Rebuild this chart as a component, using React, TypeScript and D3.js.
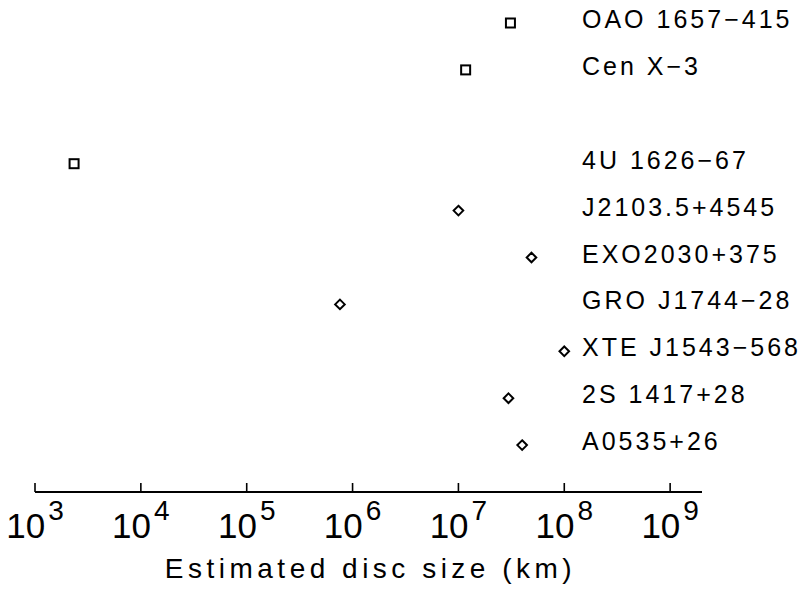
import React from "react";
import * as d3 from "d3";

const names = [
  "OAO 1657−415",
  "Cen X−3",
  "4U 1626−67",
  "J2103.5+4545",
  "EXO2030+375",
  "GRO J1744−28",
  "XTE J1543−568",
  "2S 1417+28",
  "A0535+26",
];
const rows = [0, 1, 3, 4, 5, 6, 7, 8, 9];
const discSize = [3.1e7, 1.17e7, 2.34e3, 1.0e7, 4.9e7, 7.6e5, 1.0e8, 2.97e7, 4.0e7];
const markerType = ["square", "square", "square", "diamond", "diamond", "diamond", "diamond", "diamond", "diamond"];
const tickExponents = [3, 4, 5, 6, 7, 8, 9];
const xTitle = "Estimated disc size (km)";

const W = 803;
const H = 589;
const FONT = "'Liberation Sans', Arial, sans-serif";

export default function App() {
  const x = d3.scaleLog().domain([1e3, 2e9]).range([35, 702]);
  const y = d3.scaleLinear().domain([0, 10]).range([23, 492]);
  const axisY = y(10);
  const labelX = 582;

  const diamond = (cx: number, cy: number, r: number) =>
    `M${cx},${cy - r}L${cx + r},${cy}L${cx},${cy + r}L${cx - r},${cy}Z`;

  return (
    <svg
      width={W}
      height={H}
      style={{ position: "absolute", left: 0, top: 0, background: "#fff" }}
      fontFamily={FONT}
    >
      <rect x={0} y={0} width={W} height={H} fill="#fff" />
      {/* markers */}
      {discSize.map((v, i) => {
        const cx = x(v);
        const cy = y(rows[i]);
        return markerType[i] === "square" ? (
          <rect
            key={"m" + i}
            x={cx - 4.5}
            y={cy - 4.5}
            width={9}
            height={9}
            fill="none"
            stroke="#000"
            strokeWidth={2}
          />
        ) : (
          <path key={"m" + i} d={diamond(cx, cy, 4.8)} fill="none" stroke="#000" strokeWidth={2} />
        );
      })}
      {/* labels */}
      {names.map((n, i) => (
        <text
          key={"l" + i}
          x={labelX}
          y={y(rows[i]) + 5}
          fontSize={25}
          letterSpacing={3}
          fill="#000"
        >
          {n}
        </text>
      ))}
      {/* axis */}
      <line x1={x(1e3)} x2={x(2e9)} y1={axisY} y2={axisY} stroke="#000" strokeWidth={2} />
      {tickExponents.map((e) => {
        const tx = x(Math.pow(10, e));
        return (
          <g key={"t" + e}>
            <line x1={tx} x2={tx} y1={axisY} y2={axisY - 9} stroke="#000" strokeWidth={1.6} />
            <text x={tx} y={538} textAnchor="middle" fontSize={35} fill="#000">
              10
              <tspan dx={3} dy={-18} fontSize={28}>
                {e}
              </tspan>
            </text>
          </g>
        );
      })}
      <text
        x={(x(1e3) + x(2e9)) / 2 + 2}
        y={578}
        textAnchor="middle"
        fontSize={28}
        letterSpacing={4.5}
        fill="#000"
      >
        {xTitle}
      </text>
    </svg>
  );
}
